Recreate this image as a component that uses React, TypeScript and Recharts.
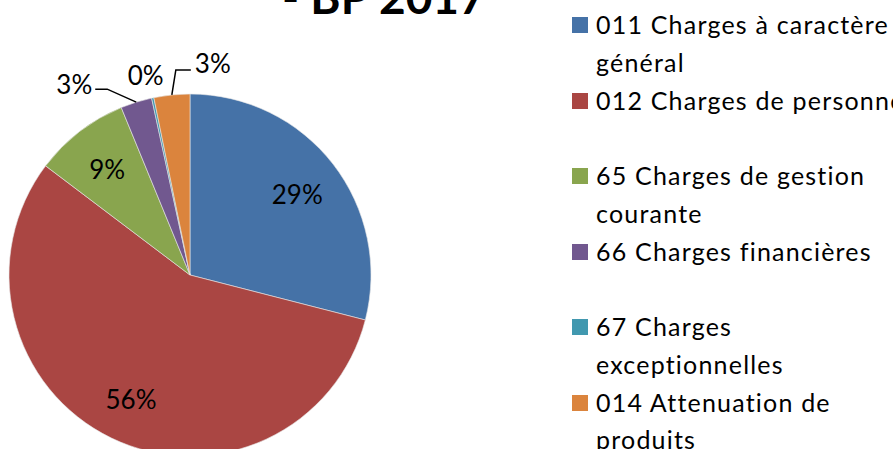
import { PieChart, Pie, Cell, Legend } from "recharts";

const categories = [
  "011 Charges à caractère général",
  "012 Charges de personnel",
  "65 Charges de gestion courante",
  "66 Charges financières",
  "67 Charges exceptionnelles",
  "014 Attenuation de produits",
];
const shares = [29.0, 56.3, 8.5, 2.8, 0.2, 3.2];
const colors = ["#4572A7", "#AA4643", "#89A54E", "#71588F", "#4198AF", "#DB843D"];

const data = categories.map((name, i) => ({ name, value: shares[i] }));

const RADIAN = Math.PI / 180;
const FONT = "Lato, 'Open Sans', sans-serif";

// leader-line layout for the thin slices, relative to the slice's outer edge
const callouts: Record<number, { elbow?: [number, number]; end: [number, number]; anchor: string; dy: number }> = {
  3: { elbow: [-29, -13], end: [-41, -13], anchor: "end", dy: -5 },
  4: { end: [-7, -23], anchor: "middle", dy: 0 },
  5: { elbow: [4, -25], end: [19, -25], anchor: "start", dy: -7 },
};

const renderLabel = (props: any) => {
  const { cx, cy, midAngle, outerRadius, percent, index } = props;
  const text = `${Math.round(percent * 100)}%`;
  const c = callouts[index];
  if (!c) {
    const r = outerRadius * 0.75;
    const x = cx + r * Math.cos(-midAngle * RADIAN);
    const y = cy + r * Math.sin(-midAngle * RADIAN);
    return (
      <text x={x} y={y + 2} textAnchor="middle" dominantBaseline="central" fontSize={26} fontFamily={FONT} fill="#000">
        {text}
      </text>
    );
  }
  const ax = cx + outerRadius * Math.cos(-midAngle * RADIAN);
  const ay = cy + outerRadius * Math.sin(-midAngle * RADIAN);
  const ex = ax + c.end[0];
  const ey = ay + c.end[1];
  const tx = c.anchor === "end" ? ex - 3 : c.anchor === "start" ? ex + 4 : ex;
  return (
    <g>
      {c.elbow && (
        <polyline
          points={`${ax},${ay} ${ax + c.elbow[0]},${ay + c.elbow[1]} ${ex},${ey}`}
          fill="none"
          stroke="#000"
          strokeWidth={1.5}
        />
      )}
      <text x={tx} y={ey + c.dy} textAnchor={c.anchor} dominantBaseline="central" fontSize={26} fontFamily={FONT} fill="#000">
        {text}
      </text>
    </g>
  );
};

// keep the legend in the source order (Recharts would sort it)
const renderLegend = () => (
  <div style={{ fontFamily: FONT, fontSize: 25, color: "#000" }}>
    {categories.map((name, i) => (
      <div key={name} style={{ display: "flex", height: 75.5, alignItems: "flex-start" }}>
        <div style={{ width: 16, height: 16, background: colors[i], marginTop: 11, flexShrink: 0 }} />
        <div style={{ marginLeft: 8, width: 322, lineHeight: "37.5px", letterSpacing: 1.2 }}>{name}</div>
      </div>
    ))}
  </div>
);

export default function App() {
  return (
    <div style={{ position: "absolute", left: 0, top: 0, width: 893, height: 449, overflow: "hidden", background: "#fff" }}>
      <div
        style={{
          position: "absolute",
          left: 282,
          top: -26,
          fontFamily: FONT,
          fontWeight: 700,
          fontSize: 46,
          lineHeight: "46px",
          color: "#000",
          whiteSpace: "nowrap",
        }}
      >
        - BP 2017
      </div>
      <PieChart width={893} height={449} margin={{ top: 0, right: 0, bottom: 0, left: 0 }}>
        <Pie
          data={data}
          dataKey="value"
          nameKey="name"
          cx={190}
          cy={275}
          outerRadius={181}
          startAngle={90}
          endAngle={-270}
          stroke="#e8e8e8"
          strokeWidth={0.6}
          label={renderLabel}
          labelLine={false}
          isAnimationActive={false}
        >
          {data.map((d, i) => (
            <Cell key={d.name} fill={colors[i]} />
          ))}
        </Pie>
        <Legend
          layout="vertical"
          align="right"
          verticalAlign="top"
          content={renderLegend}
          wrapperStyle={{ left: 572, top: 6, width: 360 }}
        />
      </PieChart>
    </div>
  );
}
